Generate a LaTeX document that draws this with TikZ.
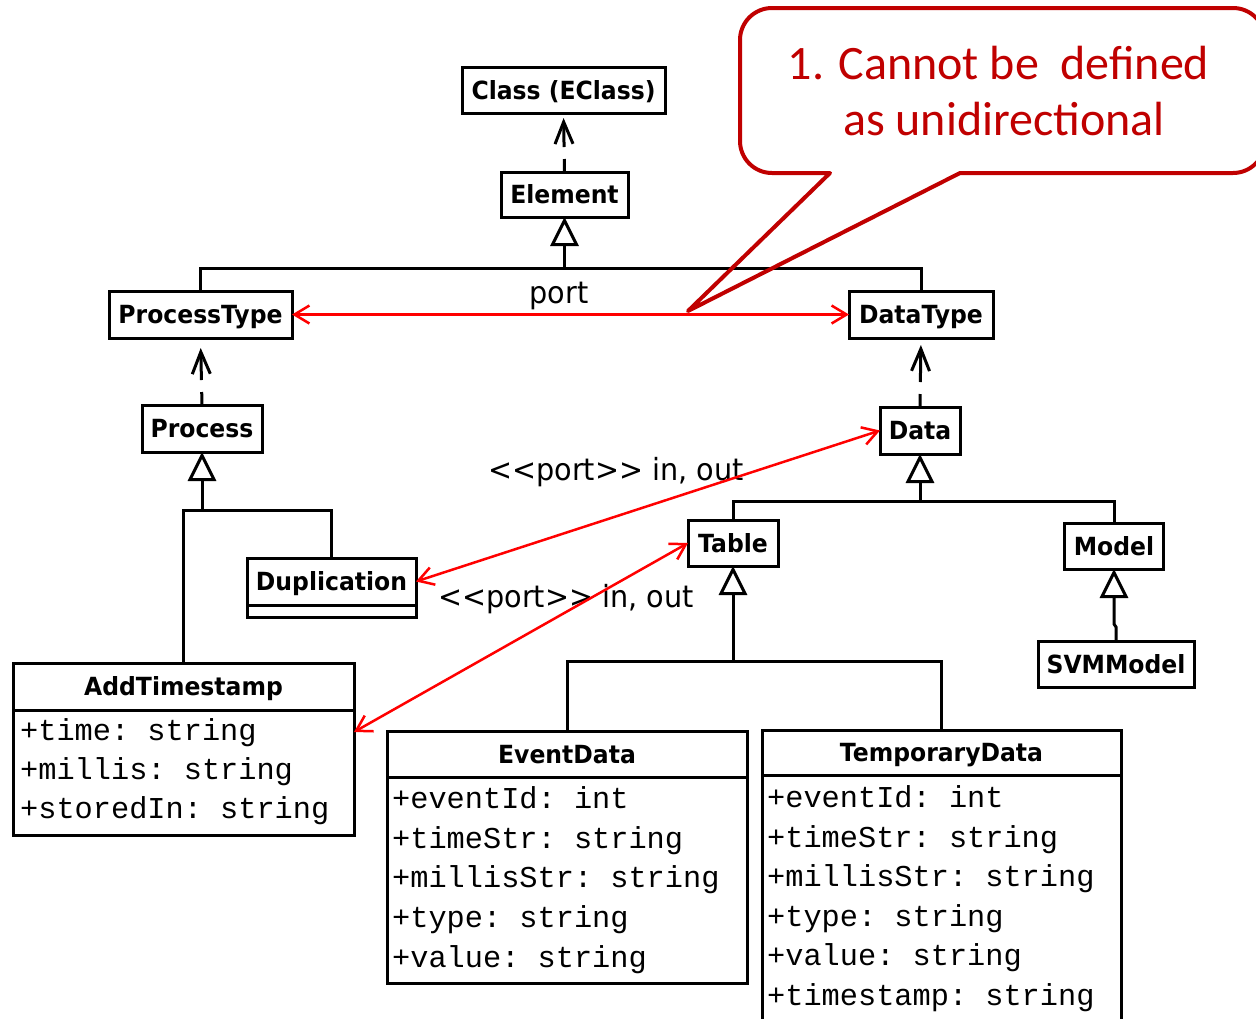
\documentclass[tikz,border=0pt]{standalone}
\usepackage{fontspec}
\usetikzlibrary{arrows.meta}
\newfontfamily\umlfont{DejaVu Sans}[FakeStretch=0.94]
\newfontfamily\notefont{Carlito}
\newfontfamily\attrfont{Liberation Mono}
\definecolor{notered}{RGB}{192,0,0}
\definecolor{portred}{RGB}{255,0,0}

\tikzset{
  cls/.style={draw, line width=3pt, inner sep=0pt, outer sep=0pt, fill=white,
    font=\umlfont\bfseries\fontsize{25}{30}\selectfont, text height=18pt, text depth=0pt},
  compartment/.style={cls, text height=0pt, anchor=north},
  attr/.style={anchor=base west, inner sep=0pt, font=\attrfont\frenchspacing\fontsize{30.3}{36}\selectfont},
  lbl/.style={inner sep=0pt, font=\umlfont\fontsize{30.5}{36}\selectfont},
  link/.style={line width=3pt},
  inherit/.style={link, -{Triangle[open, length=29pt, width=28pt]}},
  realize/.style={link, dash pattern=on 13pt off 12pt on 300pt off 12pt,
    -{Straight Barb[length=22pt, width=18pt]}},
  portlink/.style={line width=2.5pt, portred,
    {Straight Barb[length=15pt, width=18pt]}-{Straight Barb[length=15pt, width=18pt]}},
  callout/.style={draw=notered, line width=4pt, line join=round},
  notetext/.style={inner sep=0pt, anchor=base, text=notered, font=\notefont\fontsize{48}{56}\selectfont},
}

\begin{document}
\begin{tikzpicture}[x=1pt, y=-1pt]
\useasboundingbox (0,0) rectangle (1256,1018);
\clip (0,0) rectangle (1256,1018);
\fill[white] (0,0) rectangle (1256,1018);

% metamodel classes
\node[cls, minimum width=203pt, minimum height=46pt] (eclass) at (563.5,90) {Class (EClass)};
\node[cls, minimum width=127pt, minimum height=45pt] (element) at (564.5,194.5) {Element};
\node[cls, minimum width=183pt, minimum height=47pt] (ptype) at (200.5,314.5) {ProcessType};
\node[cls, minimum width=144pt, minimum height=47pt] (dtype) at (921,314.5) {DataType};
\node[cls, minimum width=120pt, minimum height=47pt] (process) at (202,428.5) {Process};
\node[cls, minimum width=80pt, minimum height=47pt] (data) at (920,430.5) {Data};

% process side
\node[cls, minimum width=169pt, minimum height=47pt] (dup) at (331.5,581.5) {Duplication};
\node[compartment, minimum width=169pt, minimum height=12pt] (dupops) at (dup.south) {};

\node[cls, minimum width=341pt, minimum height=47pt] (addts) at (183.5,686.5) {AddTimestamp};
\node[compartment, minimum width=341pt, minimum height=125pt] (addattr) at (addts.south) {};
\node[attr] (addA) at (20,740) {+time: string};
\node[attr] (addB) at (20,779) {+millis: string};
\node[attr] (addC) at (20,818) {+storedIn: string};

% data side
\node[cls, minimum width=90pt, minimum height=46pt] (table) at (733,543) {Table};
\node[cls, minimum width=99pt, minimum height=46pt] (model) at (1114,546) {Model};
\node[cls, minimum width=156pt, minimum height=46pt] (svm) at (1116,664) {SVMModel};

\node[cls, minimum width=360pt, minimum height=46pt] (event) at (567,754) {EventData};
\node[compartment, minimum width=360pt, minimum height=206pt] (eventattr) at (event.south) {};
\node[attr] (evA) at (392,808) {+eventId: int};
\node[attr] (evB) at (392,848) {+timeStr: string};
\node[attr] (evC) at (392,887) {+millisStr: string};
\node[attr] (evD) at (392,927) {+type: string};
\node[attr] (evE) at (392,967) {+value: string};

\node[cls, minimum width=359pt, minimum height=45pt] (temp) at (941.5,752.5) {TemporaryData};
\node[compartment, minimum width=359pt, minimum height=290pt] (tempattr) at (temp.south) {};
\node[attr] (tmA) at (767,807) {+eventId: int};
\node[attr] (tmB) at (767,847) {+timeStr: string};
\node[attr] (tmC) at (767,886) {+millisStr: string};
\node[attr] (tmD) at (767,926) {+type: string};
\node[attr] (tmE) at (767,965) {+value: string};
\node[attr] (tmF) at (767,1005) {+timestamp: string};

% generalisation trees
\coordinate (elbus) at (564.5,268);
\draw[link] (ptype.north) |- (elbus) -| (dtype.north);
\draw[inherit] (elbus) -- (element.south);

\coordinate (prbus) at (202,510);
\draw[link] (addts.north) |- (prbus) -| (dup.north);
\draw[inherit] (prbus) -- (process.south);

\coordinate (dabus) at (920,501);
\draw[link] (table.north) |- (dabus) -| (model.north);
\draw[inherit] (dabus) -- (data.south);

\coordinate (tabus) at (733,661);
\draw[link] (event.north) |- (tabus) -| (temp.north);
\draw[inherit] (tabus) -- (table.south);

\draw[inherit] (svm.north) -- (svm.north |- 0,627) -- (model.south |- 0,624) -- (model.south);

% instance-of dependencies
\draw[realize, shorten >=5pt] (element.north) -- (eclass.south);
\draw[realize, shorten >=10pt] (process.north) -- (ptype.south);
\draw[realize, shorten >=7pt] (data.north) -- (dtype.south);

% port labels
\node[lbl, anchor=base] (portlbl) at (559,303) {port};
\node[lbl, anchor=base west] (inout1) at (488,480) {<{}<port>{}> in, out};
\node[lbl, anchor=base west] (inout2) at (438,607) {<{}<port>{}> in, out};

% port associations
\draw[portlink] (ptype.east) -- (dtype.west);
\draw[portlink] (dup.east) -- (data.west);
\draw[portlink] ([yshift=-22pt]addattr.north east) -- (table.west);

% annotation callout
\draw[callout] (688,311) -- (960,173) [rounded corners=32pt] -- (1265,173)
  -- (1265,8) -- (740,8) -- (740,173) [sharp corners] -- (830,173) -- cycle;
\node[notetext] (note1) at (998.5,79) {1. Cannot be~ defined};
\node[notetext] (note2) at (1004,135) {as unidirectional};
\end{tikzpicture}
\end{document}
